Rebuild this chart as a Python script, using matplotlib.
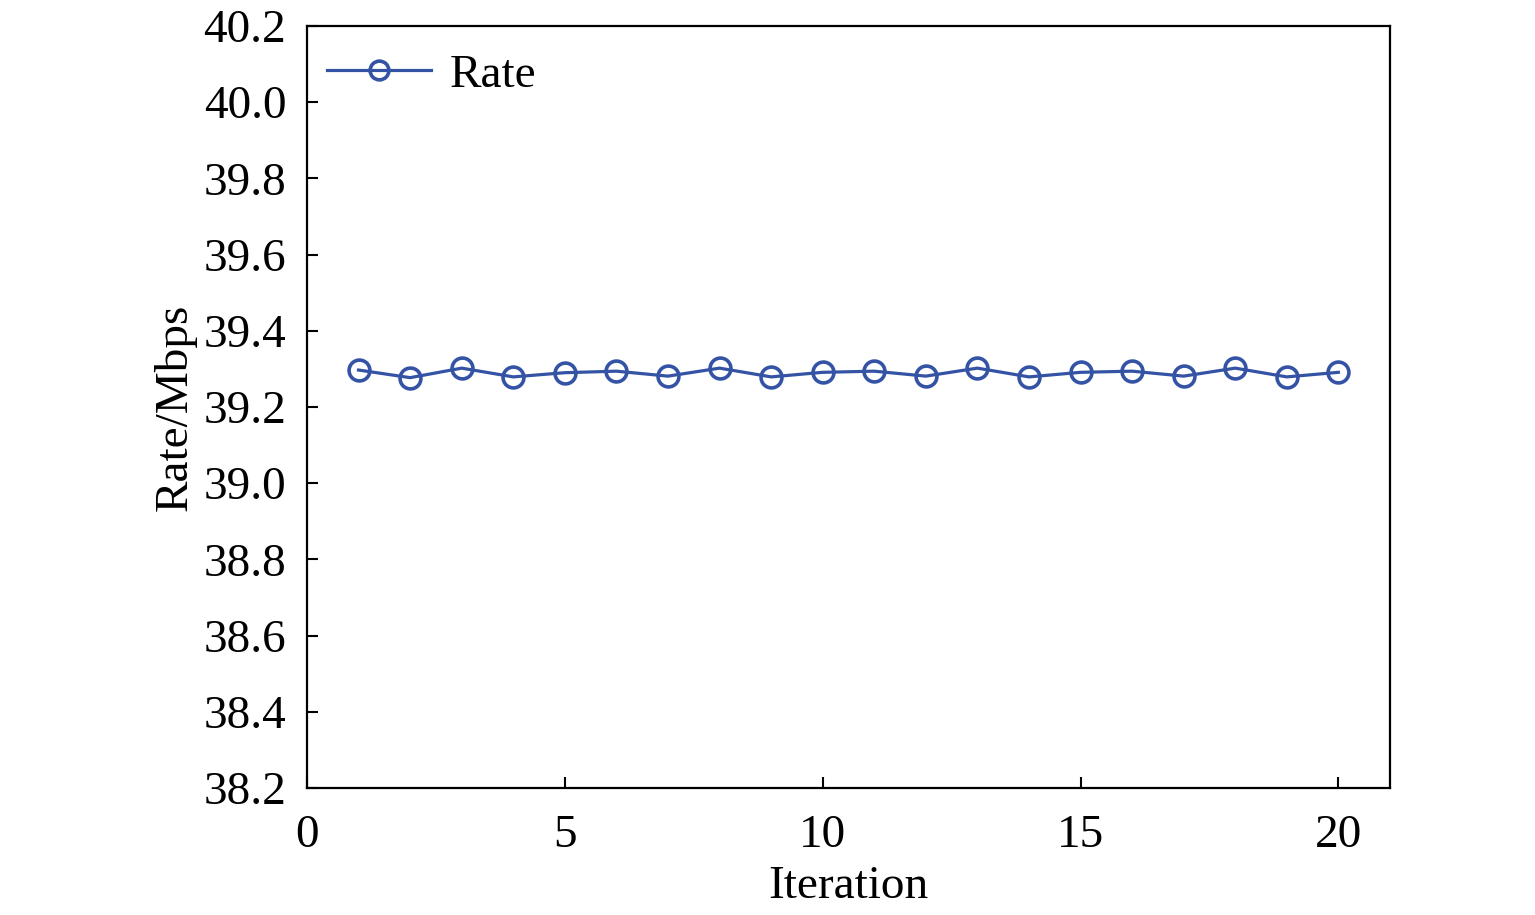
import matplotlib.pyplot as plt

plt.rcParams['font.family'] = ['Liberation Serif', 'DejaVu Serif']

iterations = list(range(1, 21))
rate = [39.297, 39.277, 39.302, 39.279, 39.290, 39.294, 39.281, 39.302, 39.279, 39.291,
        39.294, 39.281, 39.302, 39.279, 39.291, 39.294, 39.281, 39.302, 39.279, 39.291]
yticks = [38.2, 38.4, 38.6, 38.8, 39.0, 39.2, 39.4, 39.6, 39.8, 40.0, 40.2]
xticks = [0, 5, 10, 15, 20]

fig = plt.figure(figsize=(15.35, 9.15), dpi=100)
ax = fig.add_axes([0.2, 0.1388, 0.7055, 0.8328])

ax.plot(iterations, rate, color='#3553a5', linewidth=2.3, marker='o', markersize=15,
        markerfacecolor='none', markeredgewidth=2.6, markeredgecolor='#3553a5', label='Rate')

ax.set_xlim(0, 21)
ax.set_ylim(38.2, 40.2)
ax.set_xticks(xticks)
ax.set_yticks(yticks)
ax.set_yticklabels([f'{v:.1f}' for v in yticks])
ax.tick_params(direction='in', length=8, width=1.5, labelsize=34)
ax.tick_params(axis='x', pad=19)
ax.tick_params(axis='y', pad=15)
for s in ax.spines.values():
    s.set_linewidth(1.6)

ax.set_xlabel('Iteration', fontsize=34, labelpad=6)
ax.set_ylabel('Rate/Mbps', fontsize=34, labelpad=5)

ax.legend(loc='upper left', bbox_to_anchor=(-0.012, 1.007), fontsize=34, frameon=False,
          markerscale=0.9, handlelength=2.2, borderaxespad=0.3, handletextpad=0.4)

fig.savefig('out.png', dpi=100)
